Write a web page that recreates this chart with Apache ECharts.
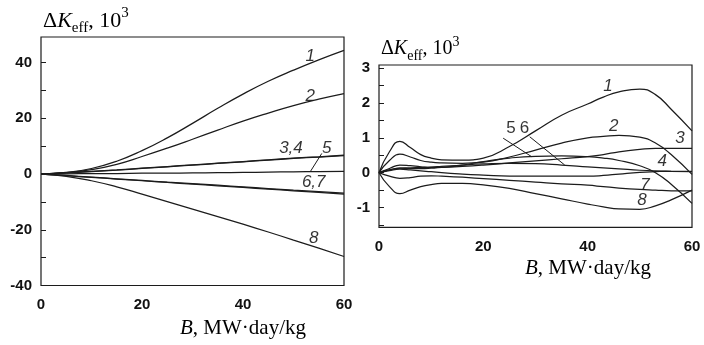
<!DOCTYPE html>
<html><head><meta charset="utf-8">
<script src="https://cdn.jsdelivr.net/npm/echarts@6/dist/echarts.min.js"></script>
<style>html,body{margin:0;padding:0;background:#fff}#c{width:704px;height:345px}</style>
</head><body><div id="c"></div>
<script>
// ---- Left panel data ----
const leftX = [0,5,10,15,20,25,30,35,40,45,50,55,60];
const leftC1 = [0,0.6,2.0,4.6,8.4,13.0,18.2,23.6,28.7,33.3,37.3,41.0,44.4];
const leftC2 = [0,0.5,1.6,3.5,6.3,9.3,12.5,15.8,19.0,21.9,24.6,26.9,28.9];
const leftC3 = [0,0.4,0.9,1.4,2.0,2.6,3.2,3.8,4.4,5.0,5.6,6.1,6.6];
const leftC4 = [0,0.5,1.0,1.5,2.1,2.7,3.3,3.9,4.5,5.1,5.7,6.2,6.8];
const leftC5 = [0,0.1,0.15,0.2,0.3,0.35,0.4,0.5,0.6,0.7,0.8,0.9,1.0];
const leftC6 = [0,-0.5,-1.1,-1.7,-2.3,-2.9,-3.4,-4.0,-4.6,-5.2,-5.8,-6.3,-6.8];
const leftC7 = [0,-0.6,-1.2,-1.8,-2.4,-3.0,-3.6,-4.2,-4.8,-5.4,-6.0,-6.6,-7.2];
const leftC8 = [0,-0.8,-2.4,-4.6,-7.2,-9.9,-12.6,-15.3,-18.0,-20.8,-23.7,-26.6,-29.6];
const leftYLabels = [-40,-20,0,20,40];
const leftYTicks = [-40,-30,-20,-10,0,10,20,30,40];
const leftXLabels = [0,20,40,60];
const leftLabelNames = ['1','2','3,4','5','6,7','8'];
const leftLabelX = [53.3,53.3,49.5,56.6,54.0,54.0];
const leftLabelY = [42.2,27.9,9.3,9.3,-3.0,-23.2];
const leftLeader5X = [55.6,53.3];
const leftLeader5Y = [7.4,0.8];

// ---- Right panel data ----
const rightX = [0,2,4,6,8,10,12,16,20,25,30,35,40,43,46,50,53,56,60];
const rightC1 = [0,0.6,0.9,0.72,0.52,0.42,0.37,0.36,0.42,0.75,1.2,1.65,1.97,2.17,2.32,2.4,2.24,1.82,1.2];
const rightC2 = [0,0.35,0.53,0.45,0.35,0.3,0.28,0.27,0.3,0.45,0.65,0.85,1.0,1.04,1.07,1.02,0.85,0.52,-0.05];
const rightC3 = [0,0.12,0.22,0.2,0.17,0.15,0.15,0.18,0.22,0.28,0.34,0.4,0.46,0.52,0.6,0.67,0.7,0.7,0.7];
const rightC4 = [0,0.06,0.1,0.08,0.05,0.03,0.0,-0.04,-0.07,-0.1,-0.1,-0.1,-0.1,-0.08,-0.04,0.01,0.03,0.04,0.04];
const rightC5 = [0,0.08,0.13,0.12,0.12,0.13,0.15,0.22,0.32,0.42,0.47,0.48,0.46,0.42,0.35,0.2,0.0,-0.33,-0.88];
const rightC6 = [0,0.08,0.13,0.14,0.15,0.16,0.18,0.22,0.25,0.27,0.26,0.22,0.17,0.14,0.11,0.07,0.05,0.04,0.03];
const rightC7 = [0,-0.1,-0.16,-0.14,-0.1,-0.09,-0.1,-0.13,-0.17,-0.22,-0.27,-0.32,-0.36,-0.4,-0.44,-0.48,-0.5,-0.52,-0.52];
const rightC8 = [0,-0.4,-0.6,-0.5,-0.4,-0.34,-0.31,-0.31,-0.35,-0.45,-0.6,-0.75,-0.9,-0.98,-1.04,-1.05,-0.95,-0.78,-0.5];
const rightYLabels = [-1,0,1,2,3];
const rightYTicks = [-1.5,-1,-0.5,0,0.5,1,1.5,2,2.5,3];
const rightXLabels = [0,20,40,60];
const rightLabelNames = ['1','2','3','4','5','6','7','8'];
const rightLabelX = [43.9,45.0,57.7,54.3,25.3,27.9,51.0,50.4];
const rightLabelY = [2.47,1.32,1.0,0.32,1.26,1.26,-0.35,-0.78];
const rightLeader5X = [23.8,29.25];
const rightLeader5Y = [0.99,0.46];
const rightLeader6X = [28.9,35.6];
const rightLeader6Y = [1.03,0.22];

const INK = '#1c1c1c';
const zip = (xs, ys) => xs.map((x, i) => [x, ys[i]]);

function curve(xs, ys, idx) {
  return { type: 'line', xAxisIndex: idx, yAxisIndex: idx, data: zip(xs, ys),
    smooth: 0.5, symbol: 'none', silent: true,
    lineStyle: { color: INK, width: 1.25 } };
}
function leader(xs, ys, idx) {
  return { type: 'line', xAxisIndex: idx, yAxisIndex: idx, data: zip(xs, ys),
    symbol: 'none', silent: true, lineStyle: { color: INK, width: 1 } };
}
function labels(names, xs, ys, idx, uprightSet) {
  return { type: 'scatter', xAxisIndex: idx, yAxisIndex: idx, symbolSize: 1,
    itemStyle: { color: 'rgba(0,0,0,0)' }, silent: true,
    data: names.map((n, i) => ({ name: n, value: [xs[i], ys[i]],
      label: { fontStyle: uprightSet.includes(n) ? 'normal' : 'italic' } })),
    label: { show: true, position: 'inside', formatter: '{b}', color: '#000',
      textBorderWidth: 0, fontFamily: 'Liberation Sans', fontSize: 17 } };
}

const tickLabelStyle = { color: '#111', fontFamily: 'Liberation Sans', fontWeight: 'bold', fontSize: 15 };

function yAxis(idx, min, max, labs, ticks) {
  return { type: 'value', gridIndex: idx, min: min, max: max,
    axisLine: { show: false },
    axisTick: { show: true, inside: true, length: 5, customValues: ticks, lineStyle: { color: INK, width: 1 } },
    axisLabel: Object.assign({ customValues: labs, margin: 9 }, tickLabelStyle),
    splitLine: { show: false } };
}
function xAxis(idx, labs) {
  return { type: 'value', gridIndex: idx, min: 0, max: 60,
    axisLine: { show: false, onZero: false },
    axisTick: { show: false },
    axisLabel: Object.assign({ customValues: labs, margin: 12 }, tickLabelStyle),
    splitLine: { show: false } };
}

const serifRich = (size) => ({
  n: { fontFamily: 'Liberation Serif', fontSize: size, color: INK, lineHeight: size + 8, verticalAlign: 'middle' },
  i: { fontFamily: 'Liberation Serif', fontStyle: 'italic', fontSize: size, color: INK, lineHeight: size + 8, verticalAlign: 'middle' },
  s: { fontFamily: 'Liberation Serif', fontSize: Math.round(size * 0.68), color: INK, lineHeight: size + 8, verticalAlign: 'bottom' },
  p: { fontFamily: 'Liberation Serif', fontSize: Math.round(size * 0.68), color: INK, lineHeight: size + 8, verticalAlign: 'top' }
});

function title(left, top, size, text) {
  return { type: 'text', left: left, top: top, silent: true,
    style: { text: text, rich: serifRich(size) } };
}

const chart = echarts.init(document.getElementById('c'), null, { renderer: 'canvas' });
chart.setOption({
  animation: false,
  backgroundColor: '#fff',
  grid: [
    { left: 41, right: 360, top: 37, bottom: 59.5, show: true, borderColor: INK, borderWidth: 1.2, backgroundColor: 'transparent' },
    { left: 379, right: 12, top: 65, bottom: 117.7, show: true, borderColor: INK, borderWidth: 1.2, backgroundColor: 'transparent' }
  ],
  xAxis: [xAxis(0, leftXLabels), xAxis(1, rightXLabels)],
  yAxis: [yAxis(0, -40, 49.2, leftYLabels, leftYTicks), yAxis(1, -1.567, 3.09, rightYLabels, rightYTicks)],
  series: [
    curve(leftX, leftC1, 0), curve(leftX, leftC2, 0), curve(leftX, leftC3, 0), curve(leftX, leftC4, 0),
    curve(leftX, leftC5, 0), curve(leftX, leftC6, 0), curve(leftX, leftC7, 0), curve(leftX, leftC8, 0),
    leader(leftLeader5X, leftLeader5Y, 0),
    labels(leftLabelNames, leftLabelX, leftLabelY, 0, []),
    curve(rightX, rightC1, 1), curve(rightX, rightC2, 1), curve(rightX, rightC3, 1), curve(rightX, rightC4, 1),
    curve(rightX, rightC5, 1), curve(rightX, rightC6, 1), curve(rightX, rightC7, 1), curve(rightX, rightC8, 1),
    leader(rightLeader5X, rightLeader5Y, 1), leader(rightLeader6X, rightLeader6Y, 1),
    labels(rightLabelNames, rightLabelX, rightLabelY, 1, ['5','6'])
  ],
  graphic: [
    title(43, 6, 22, '{n|Δ}{i|K}{s|eff}{n|, 10}{p|3}'),
    title(381, 35, 20, '{n|Δ}{i|K}{s|eff}{n|, 10}{p|3}'),
    title(180, 318, 21, '{i|B}{n|, MW·day/kg}'),
    title(525, 258, 21, '{i|B}{n|, MW·day/kg}')
  ]
});
</script>
</body></html>
